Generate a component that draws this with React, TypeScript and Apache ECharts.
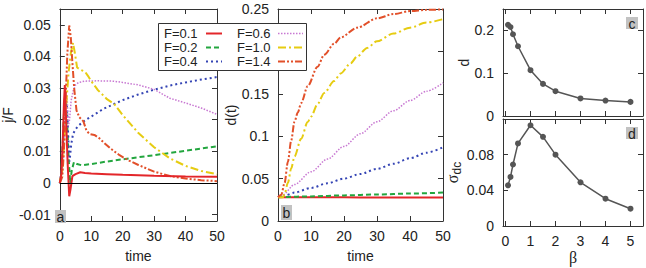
import React, { useEffect, useRef } from "react";
import * as echarts from "echarts";

// ---------- Panel a : j/F vs time ----------
const tA01 = [0, 0.5, 1.0, 1.3, 1.6, 2.0, 2.5, 3.0, 3.4, 4.0, 5.0, 6.5, 8, 10, 15, 20, 30, 40, 50];
const vA01 = [0, 0.003, 0.015, 0.025, 0.031, 0.02, 0.006, -0.0042, -0.002, 0.0022, 0.0028, 0.0034, 0.0032, 0.003, 0.0028, 0.0026, 0.0023, 0.0021, 0.002];
const tA02 = [0, 0.5, 1.0, 1.4, 1.8, 2.3, 2.8, 3.3, 3.8, 4.5, 5.5, 7, 10, 15, 20, 30, 40, 50];
const vA02 = [0, 0.003, 0.014, 0.024, 0.029, 0.02, 0.008, 0.0, 0.004, 0.0066, 0.006, 0.0056, 0.006, 0.0068, 0.0075, 0.0088, 0.0102, 0.0116];
const tA04 = [0, 0.6, 1.2, 1.8, 2.3, 2.8, 3.1, 3.6, 4.2, 5, 6, 8, 10, 14, 20, 25, 30, 35, 40, 45, 50];
const vA04 = [0, 0.004, 0.016, 0.028, 0.024, 0.012, 0.0068, 0.012, 0.0155, 0.017, 0.0182, 0.0198, 0.021, 0.0235, 0.0262, 0.028, 0.0295, 0.0308, 0.0318, 0.0327, 0.0335];
const tA06 = [0, 0.6, 1.2, 1.8, 2.3, 2.7, 3.1, 3.6, 4.2, 5, 6, 8, 12, 17, 20, 25, 30, 35, 40, 45, 50];
const vA06 = [0, 0.003, 0.013, 0.027, 0.028, 0.018, 0.02, 0.026, 0.029, 0.031, 0.0318, 0.0322, 0.0323, 0.0322, 0.0318, 0.031, 0.0296, 0.0268, 0.0253, 0.0237, 0.0217];
const tA10 = [0, 0.8, 1.5, 2.1, 2.8, 3.5, 4.2, 4.8, 5.5, 6.5, 8, 9, 10, 12, 15, 17.3, 20, 25, 30, 35, 40, 45, 50];
const vA10 = [0, 0.004, 0.014, 0.0255, 0.035, 0.041, 0.0443, 0.041, 0.0365, 0.0358, 0.0352, 0.0338, 0.0322, 0.0295, 0.0265, 0.025, 0.0215, 0.0158, 0.0113, 0.0078, 0.0054, 0.0038, 0.0028];
const tA14 = [0, 0.8, 1.3, 1.8, 2.4, 3.0, 3.5, 4.0, 4.6, 5.3, 6.2, 7.5, 8.5, 9.5, 11, 12.5, 14, 16, 19, 22, 25, 30, 35, 40, 45, 50];
const vA14 = [0, 0.002, 0.01, 0.025, 0.041, 0.0498, 0.046, 0.038, 0.0296, 0.023, 0.0208, 0.0195, 0.0165, 0.0155, 0.0152, 0.0142, 0.0128, 0.011, 0.0088, 0.0071, 0.0057, 0.0036, 0.0022, 0.0014, 0.0009, 0.0006];

// ---------- Panel b : d(t) vs time ----------
const tB01 = [0, 10, 20, 30, 40, 50];
const vB01 = [0.028, 0.0279, 0.0279, 0.0278, 0.0278, 0.0278];
const tB02 = [0, 10, 20, 30, 40, 50];
const vB02 = [0.028, 0.029, 0.0302, 0.0313, 0.0324, 0.0335];
const tB04 = [0, 2, 5, 10, 15, 20, 25, 30, 35, 40, 45, 50];
const vB04 = [0.028, 0.03, 0.0335, 0.039, 0.0445, 0.05, 0.0555, 0.0615, 0.0675, 0.074, 0.0805, 0.087];
const tB06 = [0, 1.5, 5, 10, 15, 20, 25, 30, 35, 40, 45, 50];
const vB06 = [0.028, 0.031, 0.043, 0.058, 0.073, 0.088, 0.103, 0.117, 0.13, 0.142, 0.153, 0.163];
const tB10 = [0, 1.5, 2, 3, 4, 5, 7, 9, 10, 12, 14, 17, 19, 22, 24, 27, 30, 35, 40, 45, 50];
const vB10 = [0.028, 0.028, 0.032, 0.045, 0.062, 0.076, 0.097, 0.1166, 0.123, 0.138, 0.151, 0.165, 0.174, 0.186, 0.194, 0.204, 0.212, 0.221, 0.228, 0.234, 0.238];
const tB14 = [0, 1, 2, 3, 4, 5, 6, 7, 9, 12, 14, 17, 19, 24, 30, 35, 40, 45, 50];
const vB14 = [0.028, 0.031, 0.045, 0.07, 0.095, 0.117, 0.128, 0.139, 0.159, 0.182, 0.196, 0.209, 0.2165, 0.228, 0.239, 0.244, 0.2475, 0.249, 0.2495];

// ---------- Panels c, d : vs beta ----------
const beta = [0.1, 0.2, 0.3, 0.5, 1, 1.5, 2, 3, 4, 5];
const dVals = [0.213, 0.208, 0.191, 0.163, 0.107, 0.075, 0.058, 0.041, 0.036, 0.033];
const sigmaVals = [0.0456, 0.055, 0.069, 0.0926, 0.113, 0.1, 0.08, 0.049, 0.0306, 0.0194];

// ---------- ticks ----------
const timeTicks = [0, 10, 20, 30, 40, 50];
const aTicks = [-0.01, 0, 0.01, 0.02, 0.03, 0.04, 0.05];
const bTicks = [0, 0.05, 0.1, 0.15, 0.2, 0.25];
const bLabels = [0, 0.05, 0.1, 0.15, 0.25]; // 0.2 is hidden under the key
const cTicks = [0, 0.1, 0.2];
const dTicks = [0, 0.04, 0.08];
const betaTicks = [0, 1, 2, 3, 4, 5];
const zeroLine = [0];

const seriesNames = ["F=0.1", "F=0.2", "F=0.4", "F=0.6", "F=1.0", "F=1.4"];
const seriesColors = ["#e3262a", "#23a63f", "#3444b4", "#c878d2", "#e6cc12", "#e2502a"];
const seriesDash: any[] = ["solid", [5, 3], [2, 3], [1.5, 1.5], [8, 3, 2, 3], [7, 2, 2, 2, 2, 2]];
const seriesWidth = [2, 2, 2, 1.5, 2, 2];

const AX = "#333";
const FONT = "Liberation Sans";
const lbl = { color: "#222", fontSize: 14, fontFamily: FONT, fontWeight: "normal" };

const pairs = (xs: number[], ys: number[]) => xs.map((x, i) => [x, ys[i]]);

function axis(dim: "x" | "y", gridIndex: number, position: string, min: number, max: number, ticks: number[], labels: number[] | null, extra: any = {}) {
  return {
    type: "value",
    gridIndex,
    position,
    min,
    max,
    axisLine: { show: true, onZero: false, lineStyle: { color: AX, width: 1 } },
    axisTick: { show: true, inside: true, length: 5, customValues: ticks, lineStyle: { color: AX, width: 1 } },
    axisLabel: { show: !!labels, customValues: labels || ticks, margin: dim === "x" ? 8 : 9, formatter: (v: number) => String(v), ...lbl },
    splitLine: { show: false },
    ...extra,
  };
}

export default function App() {
  const ref = useRef<HTMLDivElement>(null);
  useEffect(() => {
    if (!ref.current) return;
    const chart = echarts.init(ref.current, null, { renderer: "svg" });

    const grids = [
      { left: 52, top: 9, width: 165, height: 217 },
      { left: 278, top: 9, width: 165, height: 217 },
      { left: 503, top: 9, width: 140, height: 107 },
      { left: 503, top: 119, width: 140, height: 107 },
    ];

    const nameStyle = { fontSize: 14, color: "#222", fontFamily: FONT, fontWeight: "normal" };
    const timeName = { name: "time", nameLocation: "middle", nameGap: 28, nameTextStyle: nameStyle };
    const xAxis = [
      axis("x", 0, "bottom", 0, 50, timeTicks, timeTicks, timeName),
      axis("x", 0, "top", 0, 50, timeTicks, null),
      axis("x", 1, "bottom", 0, 50, timeTicks, timeTicks, timeName),
      axis("x", 1, "top", 0, 50, timeTicks, null),
      axis("x", 2, "bottom", -0.1, 5.5, betaTicks, null),
      axis("x", 2, "top", -0.1, 5.5, betaTicks, null),
      axis("x", 3, "bottom", -0.1, 5.5, betaTicks, betaTicks, {
        name: "β", nameLocation: "middle", nameGap: 23,
        nameTextStyle: { fontSize: 16, color: "#222", fontFamily: "Liberation Serif", fontWeight: "normal" },
      }),
      axis("x", 3, "top", -0.1, 5.5, betaTicks, null),
    ];
    const yName = (name: string, gap: number) => ({
      name, nameLocation: "middle", nameGap: gap, nameRotate: 90, nameTextStyle: nameStyle,
    });
    const yAxis = [
      axis("y", 0, "left", -0.012, 0.055, aTicks, aTicks, yName("j/F", 38)),
      axis("y", 0, "right", -0.012, 0.055, aTicks, null),
      axis("y", 1, "left", 0, 0.25, bTicks, bLabels, yName("d(t)", 38)),
      axis("y", 1, "right", 0, 0.25, bTicks, null),
      axis("y", 2, "left", 0, 0.25, cTicks, cTicks, yName("d", 30)),
      axis("y", 2, "right", 0, 0.25, cTicks, null),
      axis("y", 3, "left", 0, 0.12, dTicks, dTicks, {
        name: "{s|σ}{sub|dc}", nameLocation: "middle", nameGap: 32, nameRotate: 90,
        nameTextStyle: {
          color: "#222",
          rich: {
            s: { fontSize: 16, fontFamily: "Liberation Serif", color: "#222", lineHeight: 20, verticalAlign: "middle" },
            sub: { fontSize: 12, fontFamily: FONT, color: "#222", padding: [9, 0, 0, 0], verticalAlign: "bottom" },
          },
        },
      }),
      axis("y", 3, "right", 0, 0.12, dTicks, null),
    ];

    const aT = [tA01, tA02, tA04, tA06, tA10, tA14];
    const aV = [vA01, vA02, vA04, vA06, vA10, vA14];
    const bT = [tB01, tB02, tB04, tB06, tB10, tB14];
    const bV = [vB01, vB02, vB04, vB06, vB10, vB14];

    const series: any[] = [];
    seriesNames.forEach((nm, i) => {
      series.push({
        type: "line", name: nm, xAxisIndex: 0, yAxisIndex: 0,
        data: pairs(aT[i], aV[i]), showSymbol: false, smooth: false, clip: true,
        lineStyle: { color: seriesColors[i], width: seriesWidth[i], type: seriesDash[i] },
        z: 3 + (i === 0 ? 1 : 0),
        markLine: i === 0 ? {
          silent: true, symbol: ["none", "none"], label: { show: false },
          lineStyle: { color: "#000", width: 1, type: "solid" },
          data: zeroLine.map((v) => ({ yAxis: v })),
        } : undefined,
      });
    });
    seriesNames.forEach((nm, i) => {
      series.push({
        type: "line", name: nm + " b", xAxisIndex: 2, yAxisIndex: 2,
        data: pairs(bT[i], bV[i]), showSymbol: false, smooth: 0.3, smoothMonotone: "x", clip: true,
        lineStyle: { color: seriesColors[i], width: seriesWidth[i], type: seriesDash[i] },
      });
    });
    series.push({
      type: "line", xAxisIndex: 4, yAxisIndex: 4, data: pairs(beta, dVals),
      symbol: "circle", symbolSize: 6, itemStyle: { color: "#555" }, lineStyle: { color: "#555", width: 1.5 },
    });
    series.push({
      type: "line", xAxisIndex: 6, yAxisIndex: 6, data: pairs(beta, sigmaVals),
      symbol: "circle", symbolSize: 6, itemStyle: { color: "#555" }, lineStyle: { color: "#555", width: 1.5 },
    });

    // key drawn as graphic
    const legend: any[] = [
      { type: "rect", shape: { x: 158.5, y: 23.5, width: 148, height: 47 }, style: { fill: "#fff", stroke: AX, lineWidth: 1 }, z: 100 },
    ];
    seriesNames.forEach((nm, i) => {
      const col = Math.floor(i / 3);
      const row = i % 3;
      const ty = 33.5 + row * 14;
      const tx = col === 0 ? 164 : 237;
      const lx1 = col === 0 ? 206 : 278;
      const lx2 = col === 0 ? 222 : 303;
      legend.push({ type: "text", x: tx, y: ty, z: 101, style: { text: nm, fill: "#222", font: `13px "${FONT}"`, align: "left", verticalAlign: "middle" } });
      legend.push({ type: "line", z: 101, shape: { x1: lx1, y1: ty, x2: lx2, y2: ty }, style: { stroke: seriesColors[i], lineWidth: seriesWidth[i], lineDash: seriesDash[i] === "solid" ? null : seriesDash[i] } });
    });
    const tags = [
      { t: "a", x: 55, y: 210, w: 11, h: 13 },
      { t: "b", x: 281, y: 205, w: 11, h: 15 },
      { t: "c", x: 626, y: 17, w: 12, h: 12 },
      { t: "d", x: 626, y: 127, w: 12, h: 12 },
    ];
    tags.forEach((g) => {
      legend.push({ type: "rect", z: 50, shape: { x: g.x, y: g.y, width: g.w, height: g.h }, style: { fill: "#c2c2c2" } });
      legend.push({ type: "text", z: 51, x: g.x + g.w / 2, y: g.y + g.h / 2 + 0.5, style: { text: g.t, fill: "#222", font: `14px "${FONT}"`, align: "center", verticalAlign: "middle" } });
    });

    chart.setOption({
      animation: false,
      backgroundColor: "#fff",
      textStyle: { fontFamily: FONT },
      grid: grids,
      xAxis,
      yAxis,
      series,
      graphic: legend,
    });
    return () => chart.dispose();
  }, []);
  return <div ref={ref} style={{ position: "fixed", left: 0, top: 0, width: 646, height: 268 }} />;
}
